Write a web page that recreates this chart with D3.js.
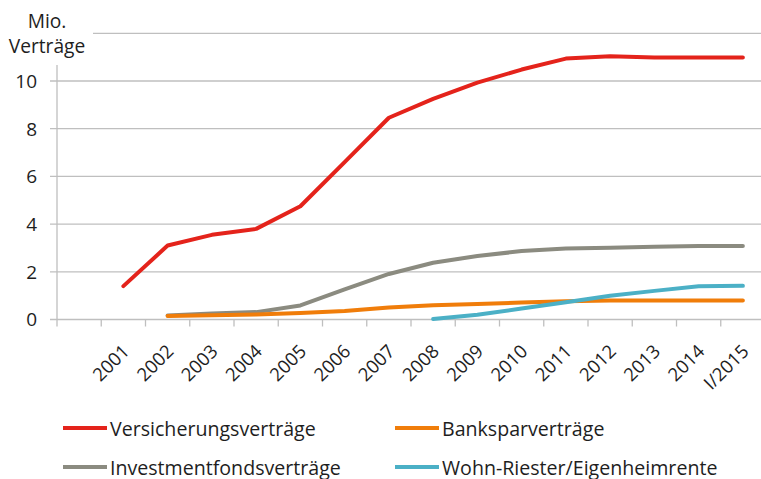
<!DOCTYPE html>
<html>
<head>
<meta charset="utf-8">
<script src="https://cdn.jsdelivr.net/npm/d3@7"></script>
<style>
  html, body { margin: 0; padding: 0; background: #fff; }
  svg { display: block; }
  text { font-family: "Open Sans", Lato, sans-serif; fill: #1e1e1e; }
</style>
</head>
<body>
<svg id="chart" width="761" height="479"></svg>
<script>
// ---- data ----
const categories = ["2001","2002","2003","2004","2005","2006","2007","2008","2009","2010","2011","2012","2013","2014","I/2015"];
const versicherung = [1.4, 3.1, 3.55, 3.8, 4.75, 6.6, 8.46, 9.25, 9.93, 10.48, 10.94, 11.04, 10.99, 10.99, 10.99];
const banksparen   = [null, 0.15, 0.18, 0.21, 0.27, 0.36, 0.5, 0.6, 0.65, 0.71, 0.76, 0.8, 0.8, 0.8, 0.8];
const investment   = [null, 0.17, 0.25, 0.31, 0.59, 1.26, 1.91, 2.38, 2.66, 2.87, 2.98, 3.01, 3.05, 3.08, 3.08];
const wohnRiester  = [null, null, null, null, null, null, null, 0.02, 0.2, 0.46, 0.72, 1.0, 1.2, 1.39, 1.41];
const yTicks = [0, 2, 4, 6, 8, 10, 12];
const yTickLabels = ["0", "2", "4", "6", "8", "10", ""];
const seriesNames = ["Versicherungsverträge", "Banksparverträge", "Investmentfondsverträge", "Wohn-Riester/Eigenheimrente"];
const seriesColors = ["#e4231b", "#f07d0a", "#8b8b80", "#4bb0c6"];
const seriesData = [versicherung, banksparen, investment, wohnRiester];
const drawOrder = [2, 1, 3, 0];

// ---- layout ----
const svg = d3.select("#chart");
const plotL = 57, plotR = 765, plotT = 33.3, plotB = 319.5;
const gridColor = "#bfbfbf";

const x = d3.scaleBand().domain(["", ...categories]).range([plotL, plotR]).paddingInner(0).paddingOuter(0);
const y = d3.scaleLinear().domain([0, 12]).range([plotB, plotT]);
const cx = c => x(c) + x.bandwidth() / 2;

// gridlines + y tick marks
svg.append("g").selectAll("line").data(yTicks).join("line")
  .attr("x1", plotL - 7).attr("x2", 761)
  .attr("y1", d => y(d)).attr("y2", d => y(d))
  .attr("stroke", gridColor).attr("stroke-width", 1.3);

// y axis line
svg.append("line").attr("x1", plotL).attr("x2", plotL).attr("y1", y(12)).attr("y2", plotB)
  .attr("stroke", gridColor).attr("stroke-width", 1.3);

// x tick marks at band boundaries
const boundaries = ["", ...categories].map(c => x(c)).concat([plotR]);
svg.append("g").selectAll("line").data(boundaries).join("line")
  .attr("x1", d => d).attr("x2", d => d)
  .attr("y1", plotB).attr("y2", plotB + 7)
  .attr("stroke", gridColor).attr("stroke-width", 1.3);

// y tick labels
svg.append("g").selectAll("text").data(yTicks).join("text")
  .attr("x", 37).attr("y", d => y(d)).attr("dy", "0.36em")
  .attr("text-anchor", "end").attr("font-size", 19)
  .text((d, i) => yTickLabels[i]);

// x labels rotated
svg.append("g").selectAll("text").data(categories).join("text")
  .attr("text-anchor", "end").attr("font-size", 18.5)
  .attr("transform", d => `translate(${cx(d) + 7},${plotB + 33}) rotate(-45)`)
  .text(d => d);

// lines
const line = d3.line()
  .defined(d => d.v !== null)
  .x(d => cx(d.c)).y(d => y(d.v));

drawOrder.forEach(i => {
  const pts = categories.map((c, k) => ({ c, v: seriesData[i][k] }));
  svg.append("path").datum(pts)
    .attr("d", line)
    .attr("fill", "none")
    .attr("stroke", seriesColors[i])
    .attr("stroke-width", 4)
    .attr("stroke-linejoin", "round")
    .attr("stroke-linecap", "round");
});

// title with white background (covers top-left of grid and axis)
svg.append("rect").attr("x", 0).attr("y", 0).attr("width", 93).attr("height", 65).attr("fill", "#fff");
svg.append("text").attr("x", 47).attr("y", 28).attr("text-anchor", "middle").attr("font-size", 19.2).text("Mio.");
svg.append("text").attr("x", 47).attr("y", 53).attr("text-anchor", "middle").attr("font-size", 19.2).text("Verträge");

// legend
const legendPos = [[63, 428], [395, 428], [63, 467], [395, 467]];
const lg = svg.append("g");
seriesNames.forEach((name, i) => {
  const [lx, ly] = legendPos[i];
  lg.append("line").attr("x1", lx).attr("x2", lx + 44).attr("y1", ly).attr("y2", ly)
    .attr("stroke", seriesColors[i]).attr("stroke-width", 4);
  lg.append("text").attr("x", lx + 47).attr("y", ly + 7.5).attr("font-size", 19.6).text(name);
});
</script>
</body>
</html>
